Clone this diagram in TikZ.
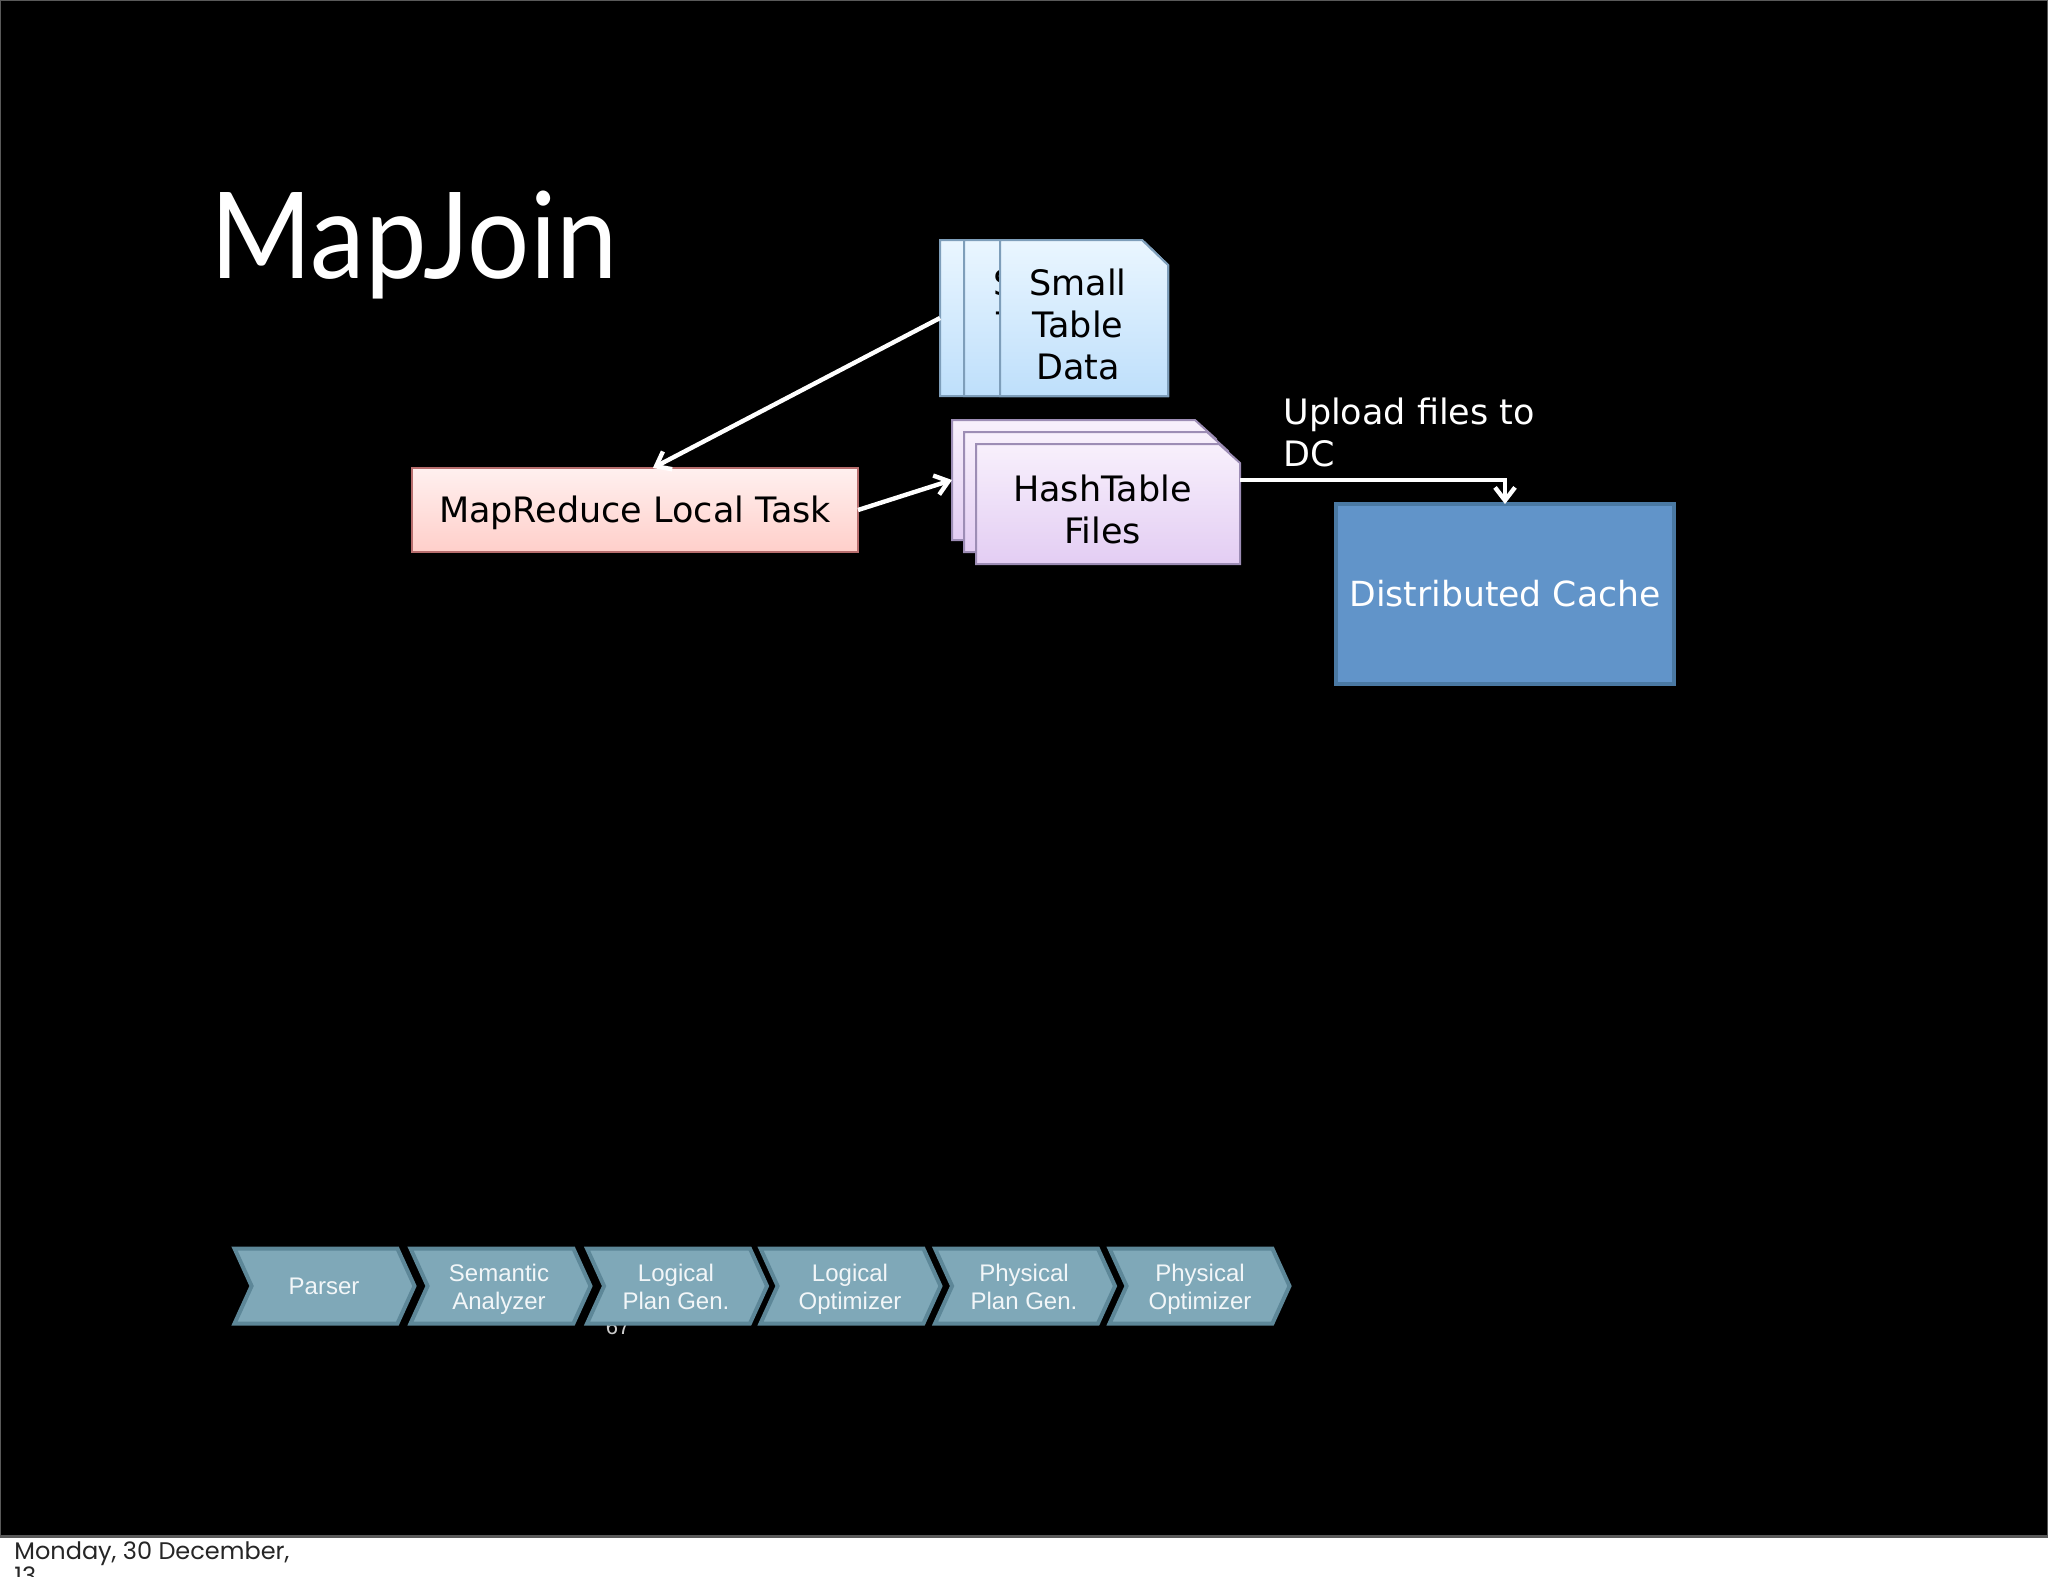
\documentclass[tikz,border=0pt]{standalone}
\usepackage{fontspec}
\setmainfont{DejaVu Sans}
\newfontfamily\titlefont{Lato}[FakeStretch=0.915]
\newfontfamily\footfont{Poppins}
\newfontfamily\chevfont{Liberation Sans}
\usetikzlibrary{shapes.symbols,arrows.meta,calc}
\definecolor{chevfill}{HTML}{7FA8B8}
\definecolor{chevline}{HTML}{5D8798}
\definecolor{dcfill}{HTML}{6194C9}
\definecolor{dcline}{HTML}{4A79A3}
\definecolor{smtop}{HTML}{EAF6FF}
\definecolor{smbot}{HTML}{BEDFFB}
\definecolor{smline}{HTML}{7E9EBA}
\definecolor{hatop}{HTML}{F8F0FC}
\definecolor{habot}{HTML}{E3CDF3}
\definecolor{haline}{HTML}{9D8DB5}
\definecolor{tatop}{HTML}{FFF0EF}
\definecolor{tabot}{HTML}{FFCFCA}
\definecolor{taline}{HTML}{B86E6E}
\definecolor{chevtxt}{HTML}{F2F6F8}
\newcommand{\docbody}[4]{% node, x cut, y cut, style name
  \path[#4,line width=1pt,line join=miter] (#1.south west) -- (#1.north west) -- ($(#1.north east)+(-#2,0)$) -- ($(#1.north east)+(0,-#3)$) -- (#1.south east) -- cycle;}
\tikzset{
  docbox/.style={rectangle,inner sep=0pt,outer sep=0pt},
  smalldoc/.style={top color=smtop,bottom color=smbot,draw=smline},
  hashdoc/.style={top color=hatop,bottom color=habot,draw=haline},
  smallbox/.style={docbox,minimum width=#1,minimum height=78pt},
  hashbox/.style={docbox,minimum width=132pt,minimum height=60pt},
  doctext/.style={anchor=base,align=center,font=\fontsize{17.5pt}{21pt}\selectfont,text=black,inner sep=0pt},
  chev/.style={signal,signal from=west,signal to=east,signal pointer angle=131,draw=chevline,fill=chevfill,line width=2pt,minimum width=90pt,minimum height=37.5pt,inner sep=0pt,outer sep=0pt},
  chevtext/.style={anchor=base,align=center,text=chevtxt,inner sep=0pt,font=\chevfont\fontsize{12pt}{14pt}\selectfont},
  conn/.style={draw=white,line width=2.2pt,-{Straight Barb[length=6.5pt,width=10pt,line width=2.2pt]}},
}
\begin{document}
\begin{tikzpicture}[x=0.5pt,y=-0.5pt]
\useasboundingbox (0,0) rectangle (2048,1576);
\fill[white] (0,0) rectangle (2048,1576);
\fill[black!65] (0,0) rectangle (2048,1538);
\fill[black] (1,1) rectangle (2047,1535);

% title
\node[anchor=base west,inner sep=0pt,text=white] (title) at (210,278) {\titlefont\fontsize{60pt}{60pt}\selectfont MapJoin};

% small table files
\node[smallbox=114pt] (sm1) at (1054,318) {};
\docbody{sm1}{13pt}{12.5pt}{smalldoc}
\node[smallbox=102pt] (sm2) at (1066,318) {};
\docbody{sm2}{13pt}{12.5pt}{smalldoc}
\node[doctext] (sm2t) at (1042,379.5) {Small\\Table\\Data};
\node[smallbox=84pt] (sm3) at (1084,318) {};
\docbody{sm3}{13pt}{12.5pt}{smalldoc}
\node[doctext] (sm3t) at (1078,379.5) {Small\\Table\\Data};

% hashtable files
\node[hashbox] (h1) at (1084,480) {};
\docbody{h1}{10.5pt}{9.5pt}{hashdoc}
\node[hashbox] (h2) at (1096,492) {};
\docbody{h2}{10.5pt}{9.5pt}{hashdoc}
\node[hashbox] (h3) at (1108,504) {};
\docbody{h3}{10.5pt}{9.5pt}{hashdoc}
\node[doctext] (h3t) at (1102.5,543.5) {HashTable\\Files};

% task and cache
\node[rectangle,minimum width=223pt,minimum height=42pt,inner sep=0pt,outer sep=0pt,line width=1pt,top color=tatop,bottom color=tabot,draw=taline] (task) at (635,510) {};
\node[doctext] (taskt) at (635,522) {MapReduce Local Task};
\node[rectangle,minimum width=169pt,minimum height=90pt,inner sep=0pt,outer sep=0pt,line width=2pt,fill=dcfill,draw=dcline] (dc) at (1505,594) {};
\node[anchor=base,text=white,inner sep=0pt,font=\fontsize{17.3pt}{21pt}\selectfont] (dct) at (1505,606) {Distributed Cache};

\node[anchor=base west,align=left,text=white,inner sep=0pt,font=\fontsize{17.5pt}{21pt}\selectfont] (up) at (1283,466) {Upload files to\\DC};

% connectors
\draw[conn] (sm1.west) -- ($(task.north west)!0.54!(task.north east)$);
\draw[conn] (task.east) -- (h1.west);
\draw[conn] ($(h3.east)+(0,-24)$) -| (dc.north);

% page number, partly hidden by the chevrons
\node[text=black!20,inner sep=0pt,font=\chevfont\fontsize{11pt}{11pt}\selectfont] (pg) at (618,1327) {67};

% chevrons
\node[chev] (c1) at (324.5,1286) {};
\node[chev] (c2) at (500.5,1286) {};
\node[chev] (c3) at (677,1286) {};
\node[chev] (c4) at (850.5,1286) {};
\node[chev] (c5) at (1025,1286) {};
\node[chev] (c6) at (1199.5,1286) {};
\node[chevtext] (c1t) at (324,1294.5) {Parser};
\node[chevtext] (c2t) at (499,1309) {Semantic\\Analyzer};
\node[chevtext] (c3t) at (676,1309) {Logical\\Plan Gen.};
\node[chevtext] (c4t) at (850,1309) {Logical\\Optimizer};
\node[chevtext] (c5t) at (1024,1309) {Physical\\Plan Gen.};
\node[chevtext] (c6t) at (1200,1309) {Physical\\Optimizer};

% footer
\begin{scope}
\clip (0,0) rectangle (2048,1576);
\node[anchor=base west,align=left,text=black!85,inner sep=0pt,font=\footfont\fontsize{12pt}{12.5pt}\selectfont] (foot) at (14,1584) {Monday, 30 December,\\13};
\end{scope}
\end{tikzpicture}
\end{document}
